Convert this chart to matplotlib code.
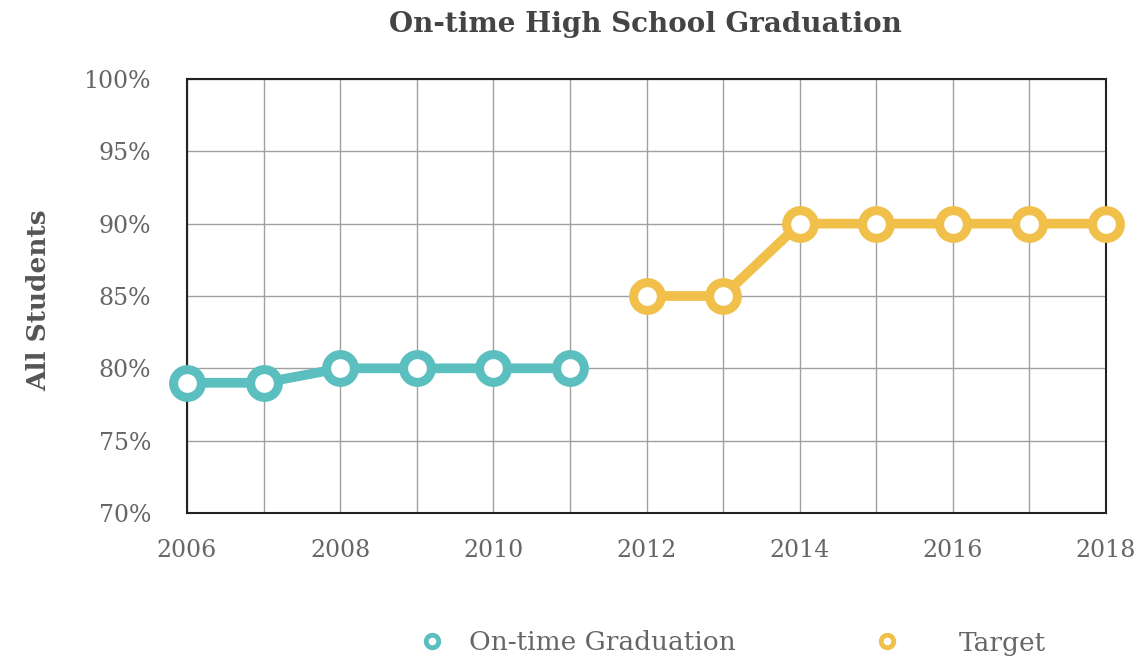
import matplotlib
matplotlib.use("Agg")
import matplotlib.pyplot as plt
from matplotlib.lines import Line2D
from matplotlib.ticker import MultipleLocator, FuncFormatter

grad_years = [2006, 2007, 2008, 2009, 2010, 2011]
grad_values = [79, 79, 80, 80, 80, 80]
target_years = [2012, 2013, 2014, 2015, 2016, 2017, 2018]
target_values = [85, 85, 90, 90, 90, 90, 90]
x_ticks = [2006, 2008, 2010, 2012, 2014, 2016, 2018]
y_ticks = [70, 75, 80, 85, 90, 95, 100]

teal = "#5cbfbf"
gold = "#f0c04a"
text_grey = "#666666"

plt.rcParams["font.family"] = ["DejaVu Serif"]

fig = plt.figure(figsize=(11.43, 6.66), dpi=100)
ax = fig.add_axes([187 / 1143, 1 - 513 / 666, (1106 - 187) / 1143, (513 - 79) / 666])

style = dict(marker="o", markersize=20, markeredgewidth=6.5, markerfacecolor="white",
             linewidth=7, clip_on=False, zorder=3)
ax.plot(grad_years, grad_values, color=teal, markeredgecolor=teal, **style)
ax.plot(target_years, target_values, color=gold, markeredgecolor=gold, **style)

ax.set_xlim(2006, 2018)
ax.set_ylim(70, 100)
ax.set_xticks(x_ticks)
ax.xaxis.set_minor_locator(MultipleLocator(1))
ax.set_yticks(y_ticks)
ax.yaxis.set_major_formatter(FuncFormatter(lambda v, _: f"{int(v)}%"))
ax.grid(True, which="both", color="#a0a0a0", linewidth=1)
ax.set_axisbelow(True)
ax.tick_params(which="both", length=0, labelsize=17, colors=text_grey)
ax.tick_params(axis="y", pad=26)
ax.tick_params(axis="x", pad=19)
for spine in ax.spines.values():
    spine.set_color("#222222")
    spine.set_linewidth(1.5)

ax.set_ylabel("All Students", fontsize=19, fontweight="bold", color="#555555")
ax.yaxis.set_label_coords(-0.148, 0.49)
fig.text(645 / 1143, 1 - 25 / 666, "On-time High School Graduation", ha="center", va="center",
         fontsize=20, fontweight="bold", color="#444444")

# label, colour, left edge (px), gap between marker and text
legend_items = [("On-time Graduation", teal, 419, 0.9), ("Target", gold, 874, 2.2)]
for label, color, x0, gap in legend_items:
    handle = Line2D([], [], linestyle="none", marker="o", markersize=9, markeredgewidth=3.5,
                    markerfacecolor="white", markeredgecolor=color, label=label)
    leg = fig.legend(handles=[handle], loc="center left", bbox_to_anchor=(x0 / 1143, 1 - 643 / 666),
                     frameon=False, fontsize=19, handlelength=1, handletextpad=gap,
                     borderpad=0, borderaxespad=0)
    for t in leg.get_texts():
        t.set_color(text_grey)

fig.savefig("out.png", dpi=100)
